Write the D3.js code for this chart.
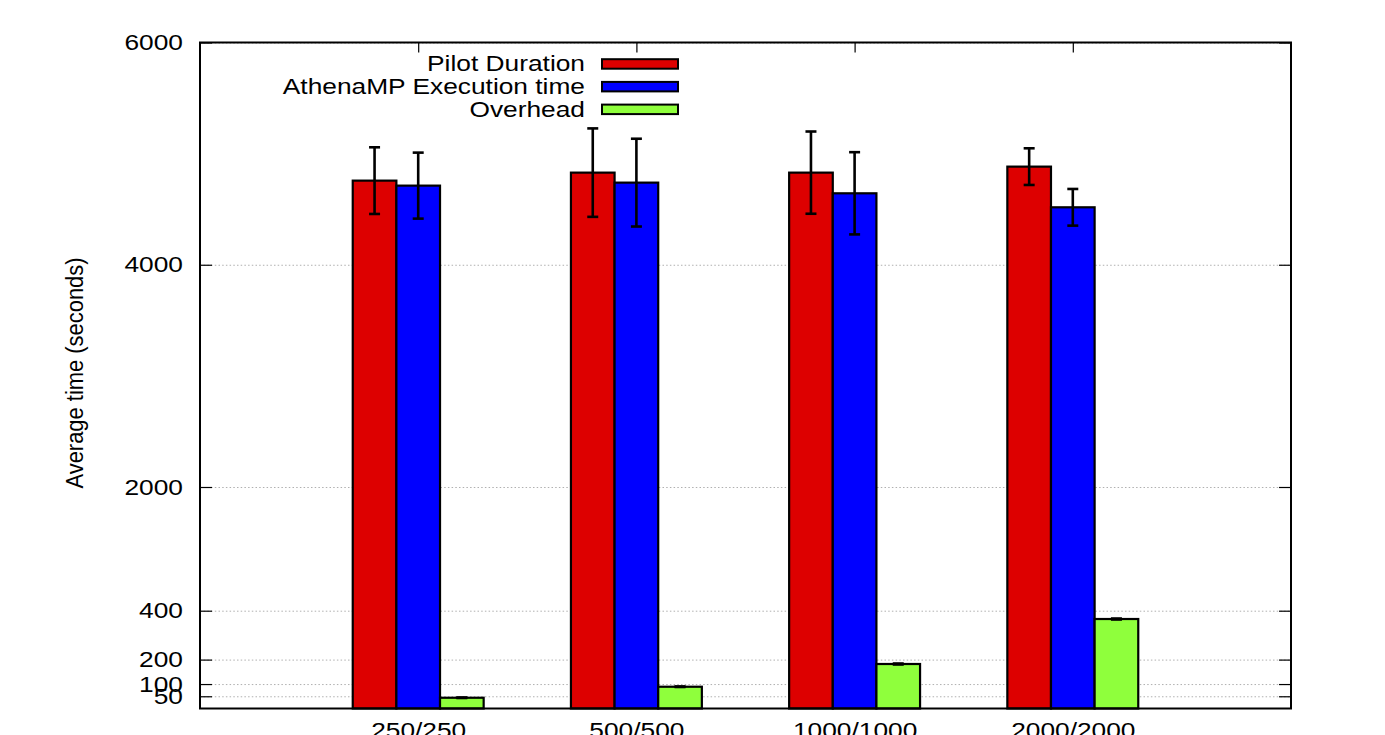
<!DOCTYPE html>
<html>
<head>
<meta charset="utf-8">
<script src="https://cdn.jsdelivr.net/npm/d3@7"></script>
<style>
  body { margin: 0; background: #fff; }
  text { font-family: "Liberation Sans", Arial, sans-serif; fill: #000; }
  .grid line { stroke: #b0b0b0; stroke-dasharray: 1.5,2.2; stroke-width: 1; }
  .grid path { display: none; }
  .ax path { display: none; }
  .ax line { stroke: #000; stroke-width: 1.2; }
</style>
</head>
<body>
<div id="chart"></div>
<script>
var categories = ["250/250", "500/500", "1000/1000", "2000/2000"];
var pilot = [4757, 4829, 4829, 4883];
var pilotErr = [300, 398, 370, 165];
var athena = [4712, 4739, 4643, 4517];
var athenaErr = [297, 395, 370, 165];
var overhead = [44, 89, 182, 366];
var overheadErr = [1, 1, 2, 2];
var yTicks = [50, 100, 200, 400, 2000, 4000, 6000];
var seriesNames = ["Pilot Duration", "AthenaMP Execution time", "Overhead"];
var seriesColours = ["#dd0000", "#0000ff", "#8fff3c"];

var W = 1385, H = 735;
var margin = {top: 42.5, left: 200, right: 94, bottom: 26.5};
var width = W - margin.left - margin.right;
var height = H - margin.top - margin.bottom;
var stretch = 1.17; // glyphs in the picture are a bit wide

var svg = d3.select("#chart").append("svg")
  .attr("width", W)
  .attr("height", H);

var g = svg.append("g")
  .attr("transform", "translate(" + margin.left + "," + margin.top + ")");

// broken y axis: three linear pieces
var y = d3.scaleLinear()
  .domain([0, 400, 2000, 6000])
  .range([height, height - 97.8, height - 221.5, 0]);

// group k sits at k+1 on a 0..5 line
var x = d3.scaleLinear().domain([0, 5]).range([0, width]);
var barW = x(0.2) - x(0);

var series = [
  {name: seriesNames[0], vals: pilot, err: pilotErr, colour: seriesColours[0], off: -1.5},
  {name: seriesNames[1], vals: athena, err: athenaErr, colour: seriesColours[1], off: -0.5},
  {name: seriesNames[2], vals: overhead, err: overheadErr, colour: seriesColours[2], off: 0.5}
];

// grid
g.append("g").attr("class", "grid")
  .call(d3.axisLeft(y).tickValues(yTicks).tickSize(-width).tickFormat(""));

// left axis, ticks inward
var yAxis = g.append("g").attr("class", "ax")
  .call(d3.axisLeft(y).tickValues(yTicks).tickSizeInner(-12).tickSizeOuter(0).tickPadding(17)
    .tickFormat(d3.format("d")));
yAxis.selectAll("text")
  .attr("x", -17 / stretch)
  .attr("transform", "scale(" + stretch + ",1)")
  .style("font-size", "22.5px");

// mirror on the right
g.append("g").attr("class", "ax")
  .attr("transform", "translate(" + width + ",0)")
  .call(d3.axisRight(y).tickValues(yTicks).tickSizeInner(-12).tickSizeOuter(0).tickFormat(""));

var centers = categories.map(function(d, i) { return i + 1; });

g.append("g").attr("class", "ax")
  .call(d3.axisTop(x).tickValues(centers).tickSizeInner(-10).tickSizeOuter(0).tickFormat(""));

var xAxis = g.append("g").attr("class", "ax")
  .attr("transform", "translate(0," + height + ")")
  .call(d3.axisBottom(x).tickValues(centers).tickSizeInner(-10).tickSizeOuter(0).tickPadding(14)
    .tickFormat(function(d) { return categories[d - 1]; }));
xAxis.selectAll("text")
  .attr("x", 0)
  .attr("transform", "scale(" + stretch + ",1)")
  .style("font-size", "22.5px");

// bars
series.forEach(function(s) {
  var sg = g.append("g");
  sg.selectAll("rect")
    .data(s.vals)
    .enter()
    .append("rect")
    .attr("x", function(d, i) { return x(i + 1) + s.off * barW; })
    .attr("y", function(d) { return y(d); })
    .attr("width", barW)
    .attr("height", function(d) { return height - y(d); })
    .attr("fill", s.colour)
    .attr("stroke", "#000")
    .attr("stroke-width", 2.2);

  // error bars
  var eb = sg.selectAll("g.err")
    .data(s.vals)
    .enter()
    .append("g")
    .attr("class", "err")
    .attr("transform", function(d, i) { return "translate(" + (x(i + 1) + (s.off + 0.5) * barW) + ",0)"; });

  eb.append("line")
    .attr("y1", function(d, i) { return y(d + s.err[i]); })
    .attr("y2", function(d, i) { return y(d - s.err[i]); })
    .attr("stroke", "#000").attr("stroke-width", 2.6);
  eb.append("line")
    .attr("x1", -5.5).attr("x2", 5.5)
    .attr("y1", function(d, i) { return y(d + s.err[i]); })
    .attr("y2", function(d, i) { return y(d + s.err[i]); })
    .attr("stroke", "#000").attr("stroke-width", 2.6);
  eb.append("line")
    .attr("x1", -5.5).attr("x2", 5.5)
    .attr("y1", function(d, i) { return y(d - s.err[i]); })
    .attr("y2", function(d, i) { return y(d - s.err[i]); })
    .attr("stroke", "#000").attr("stroke-width", 2.6);
});

// frame
g.append("rect")
  .attr("width", width)
  .attr("height", height)
  .attr("fill", "none")
  .attr("stroke", "#000")
  .attr("stroke-width", 2);

// legend
var legend = svg.append("g");
var li = legend.selectAll("g")
  .data(series)
  .enter()
  .append("g")
  .attr("transform", function(d, i) { return "translate(0," + (63.7 + i * 22.7) + ")"; });

li.append("text")
  .attr("x", 585 / stretch)
  .attr("y", 7.5)
  .attr("text-anchor", "end")
  .attr("transform", "scale(" + stretch + ",1)")
  .style("font-size", "22.5px")
  .text(function(d) { return d.name; });

li.append("rect")
  .attr("x", 602)
  .attr("y", -4.5)
  .attr("width", 76)
  .attr("height", 9.5)
  .attr("fill", function(d) { return d.colour; })
  .attr("stroke", "#000")
  .attr("stroke-width", 2);

// y label
svg.append("text")
  .attr("transform", "translate(83,373) rotate(-90) scale(1.02,1.1)")
  .attr("text-anchor", "middle")
  .style("font-size", "21.5px")
  .text("Average time (seconds)");
</script>
</body>
</html>
